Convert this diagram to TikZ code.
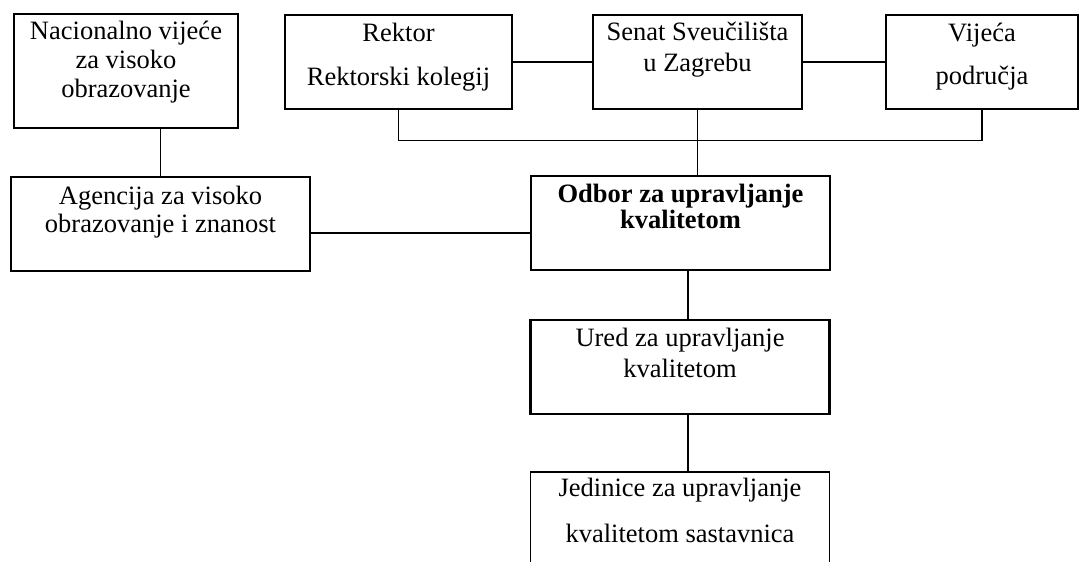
\documentclass[tikz,border=0pt]{standalone}
\usepackage{fontspec}
\setmainfont{Liberation Serif}
\usetikzlibrary{calc}

% width, height, first baseline, line distance, text
\newcommand{\cell}[5]{\parbox[c][#2][t]{#1}{\centering\baselineskip=#4\relax\rule{0pt}{#3}#5\par}}

\begin{document}
\begin{tikzpicture}[x=0.5pt, y=-0.5pt,
  unit/.style={draw, line width=0.7pt, inner sep=0pt},
  link/.style={draw, line width=0.6pt},
  every node/.style={font={\fontsize{13.25}{15}\selectfont}}]
\fill [white] (0,0) rectangle (1079,561);
\useasboundingbox (0,0) rectangle (1079,561);
\clip (0,0) rectangle (1079,561);

%the top row
\node [unit] (nvvo) at (126,71) {\cell{112pt}{57pt}{13pt}{14.5pt}{Nacionalno vijeće\\za visoko\\obrazovanje}};
\node [unit] (rektor) at (398.5,62) {\cell{113.5pt}{47pt}{13.5pt}{22pt}{Rektor\\Rektorski kolegij}};
\node [unit] (senat) at (697.5,62) {\cell{104.5pt}{47pt}{13pt}{15.5pt}{Senat Sveučilišta\\u Zagrebu}};
\node [unit] (vijeca) at (982,62) {\cell{96pt}{47pt}{13.5pt}{21.5pt}{Vijeća\\područja}};

%the middle
\node [unit] (azvo) at (160.5,224) {\cell{149.5pt}{47pt}{13.5pt}{14pt}{Agencija za visoko\\obrazovanje i znanost}};
\node [unit] (odbor) at (680.5,223) {\cell{149.5pt}{47pt}{13pt}{12pt}{\bfseries Odbor za upravljanje\\kvalitetom}};

%the lower boxes
\node [unit, line width=1.1pt] (ured) at (680,367) {\cell{149.5pt}{47pt}{13pt}{15.5pt}{Ured za upravljanje\\kvalitetom}};
\node [unit] (jedinice) at (680,519) {\cell{149.5pt}{47pt}{12pt}{23pt}{Jedinice za upravljanje\\kvalitetom sastavnica}};

%the lines
\coordinate (mid) at (0,233);
\coordinate (spine) at (688,0);
\path [link] (rektor.east) -- (senat.west);
\path [link] (senat.east) -- (vijeca.west);
\path [link] (rektor.south) -- ++(0,31) -| (vijeca.south);
\path [link] (senat.south) -- (senat.south |- odbor.north);
\path [link] (azvo.north) -- (azvo.north |- nvvo.south);
\path [link] (azvo.east |- mid) -- (odbor.west |- mid);
\path [link] (odbor.south -| spine) -- (ured.north -| spine);
\path [link] (ured.south -| spine) -- (jedinice.north -| spine);
\end{tikzpicture}
\end{document}
